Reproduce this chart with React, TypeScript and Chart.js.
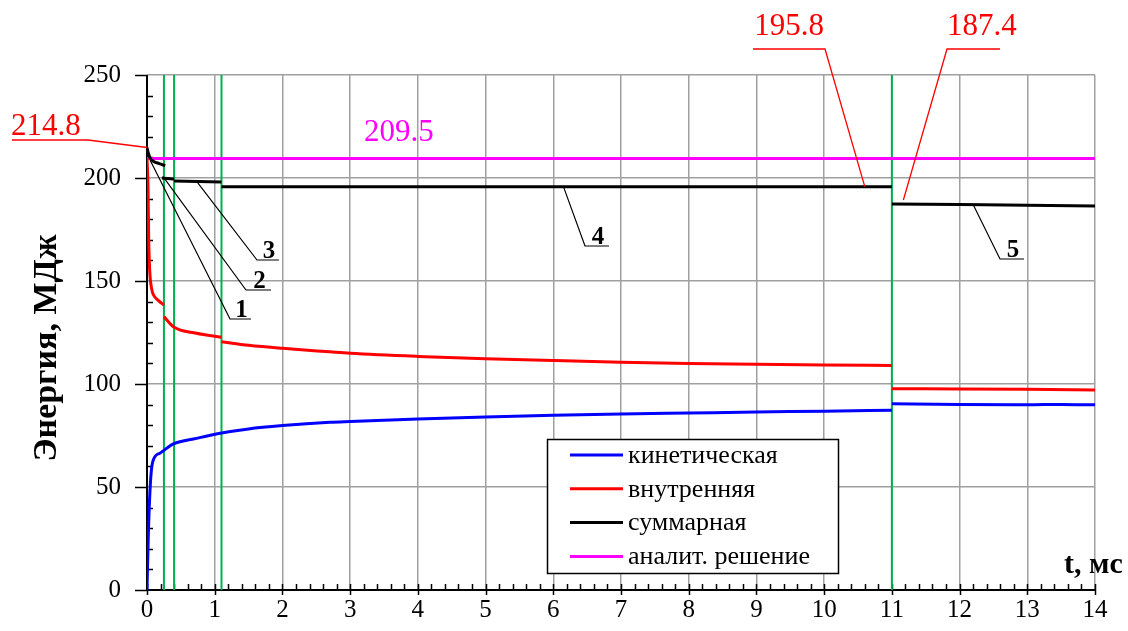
import { useEffect, useRef } from "react";
import { Chart, registerables } from "chart.js";

Chart.register(...registerables);

// Time axis (ms) and energy (MJ) for each curve; null breaks a curve between phases
const kineticT = [0, 0.02, 0.05, 0.085, 0.19, 0.39, 0.73, 1.08, 1.5, 2, 2.7, 3, 4, 5, 6, 7, 8, 9, 10, 11, 11, 11, 12, 13, 13.5, 14];
const kineticE = [0, 27.5, 51.8, 62.3, 66.4, 70.9, 73.6, 76.1, 78.2, 79.8, 81.4, 81.8, 83, 84, 84.8, 85.4, 85.9, 86.4, 86.8, 87.3, null, 90.4, 90.0, 89.9, 90.1, 89.9];

const internalT = [0, 0.015, 0.025, 0.04, 0.07, 0.1, 0.17, 0.25, 0.25, 0.25, 0.39, 0.73, 1.1, 1.1, 1.1, 1.5, 2, 2.7, 3, 4, 5, 6, 7, 8, 9, 10, 11, 11, 11, 12, 13, 14];
const internalE = [209.5, 195, 170, 155, 146, 143, 140.5, 138.3, null, 132.7, 127.8, 124.6, 122.7, null, 120.5, 118.8, 117.3, 115.6, 114.9, 113.4, 112.3, 111.4, 110.6, 110, 109.6, 109.2, 109, null, 97.7, 97.6, 97.4, 97.1];

const totalT = [0, 0.02, 0.05, 0.1, 0.18, 0.27, 0.27, 0.22, 0.4, 0.4, 0.4, 1.1, 1.1, 1.1, 11, 11, 11, 12, 13, 14];
const totalE = [214.8, 212, 209.5, 208, 207, 206, null, 200, 199.5, null, 198.6, 198.1, null, 195.8, 195.8, null, 187.4, 187.1, 186.8, 186.4];

const analyticT = [0, 14];
const analyticE = [209.5, 209.5];

// Phase boundaries (ms)
const markerT = [0.25, 0.4, 1.1, 11];

const legendLabels = ["кинетическая", "внутренняя", "суммарная", "аналит. решение"];
const legendColors = ["#0000ff", "#ff0000", "#000000", "#ff00ff"];

const yAxisTitle = "Энергия, МДж";
const xAxisTitle = "t, мс";

// Value call-outs with the point each one refers to
const startLabel = { text: "214.8", t: 0, e: 214.8 };
const beforeLabel = { text: "195.8", t: 10.6, e: 195.8 };
const afterLabel = { text: "187.4", t: 11.17, e: 189.3 };
const analyticLabel = "209.5";

// Numbered segment pointers and where they touch the total-energy curve
const segmentNums = ["1", "2", "3", "4", "5"];
const segmentT = [0.045, 0.24, 0.75, 6.15, 12.2];
const segmentE = [208.7, 200.5, 197.6, 195.8, 187.1];

const FONT = "'Liberation Serif', 'Times New Roman', serif";

const pts = (t: number[], e: (number | null)[]) => t.map((x, i) => ({ x, y: e[i] }));

export default function App() {
  const ref = useRef<HTMLCanvasElement | null>(null);

  useEffect(() => {
    if (!ref.current) return;

    const axesPlugin = {
      id: "axesPlugin",
      beforeDatasetsDraw(chart: any) {
        const { ctx, chartArea: a, scales } = chart;
        const xs = scales.x;
        const ys = scales.y;
        ctx.save();
        ctx.strokeStyle = "#000";
        ctx.lineWidth = 1.5;
        ctx.beginPath();
        for (let v = 0; v <= 250; v += 10) {
          const y = Math.round(ys.getPixelForValue(v)) + 0.5;
          if (v % 50 === 0) {
            ctx.moveTo(a.left - 12, y);
            ctx.lineTo(a.left, y);
          } else {
            ctx.moveTo(a.left, y);
            ctx.lineTo(a.left + 6, y);
          }
        }
        for (let i = 0; i <= 70; i++) {
          const v = i * 0.2;
          const x = Math.round(xs.getPixelForValue(v)) + 0.5;
          if (i % 5 === 0) {
            ctx.moveTo(x, a.bottom - 6);
            ctx.lineTo(x, a.bottom + 5);
          } else {
            ctx.moveTo(x, a.bottom - 6);
            ctx.lineTo(x, a.bottom);
          }
        }
        ctx.stroke();
        ctx.lineWidth = 2;
        ctx.beginPath();
        ctx.moveTo(a.left, a.top);
        ctx.lineTo(a.left, a.bottom);
        ctx.lineTo(a.right, a.bottom);
        ctx.stroke();
        ctx.restore();
      },
    };

    const notesPlugin = {
      id: "notesPlugin",
      afterDatasetsDraw(chart: any) {
        const { ctx, scales } = chart;
        const xs = scales.x;
        const ys = scales.y;
        const px = (t: number) => xs.getPixelForValue(t);
        const py = (e: number) => ys.getPixelForValue(e);
        ctx.save();

        // red value call-outs
        ctx.strokeStyle = "#ff0000";
        ctx.fillStyle = "#ff0000";
        ctx.lineWidth = 1.3;
        ctx.font = `31px ${FONT}`;
        ctx.textBaseline = "alphabetic";

        ctx.textAlign = "left";
        ctx.fillText(startLabel.text, 11, 135);
        ctx.beginPath();
        ctx.moveTo(12, 140);
        ctx.lineTo(88, 140);
        ctx.lineTo(px(startLabel.t), py(startLabel.e));
        ctx.stroke();

        ctx.textAlign = "center";
        ctx.fillText(beforeLabel.text, 789, 35);
        ctx.beginPath();
        ctx.moveTo(753, 49);
        ctx.lineTo(825, 49);
        ctx.lineTo(px(beforeLabel.t), py(beforeLabel.e));
        ctx.stroke();

        ctx.textAlign = "left";
        ctx.fillText(afterLabel.text, 947, 35);
        ctx.beginPath();
        ctx.moveTo(1000, 49);
        ctx.lineTo(947, 49);
        ctx.lineTo(px(afterLabel.t), py(afterLabel.e));
        ctx.stroke();

        ctx.fillStyle = "#ff00ff";
        ctx.fillText(analyticLabel, 364, 141);

        // numbered pointers to the total-energy segments
        const elbows = [
          [230, 319, 251],
          [246, 290, 271],
          [257, 260, 279],
          [585, 246, 609],
          [1000, 259, 1024],
        ];
        ctx.strokeStyle = "#000";
        ctx.fillStyle = "#000";
        ctx.lineWidth = 1.2;
        ctx.font = `bold 25px ${FONT}`;
        ctx.textAlign = "center";
        segmentNums.forEach((n, i) => {
          const [ex, ey, ux] = elbows[i];
          ctx.beginPath();
          ctx.moveTo(px(segmentT[i]), py(segmentE[i]));
          ctx.lineTo(ex, ey);
          ctx.lineTo(ux, ey);
          ctx.stroke();
          ctx.fillText(n, (ex + ux) / 2 + 1, ey - 2);
        });
        ctx.restore();
      },
      afterDraw(chart: any) {
        const { ctx } = chart;
        ctx.save();
        // axis titles
        ctx.fillStyle = "#000";
        ctx.font = `bold 34px ${FONT}`;
        ctx.textAlign = "center";
        ctx.textBaseline = "middle";
        ctx.translate(47, 348);
        ctx.rotate(-Math.PI / 2);
        ctx.fillText(yAxisTitle, 0, 0);
        ctx.setTransform(1, 0, 0, 1, 0, 0);
        ctx.font = `bold 30px ${FONT}`;
        ctx.textAlign = "left";
        ctx.textBaseline = "alphabetic";
        ctx.fillText(xAxisTitle, 1064, 573);

        // legend box
        const bx = 547, by = 439, bw = 291, bh = 134;
        ctx.fillStyle = "#fff";
        ctx.fillRect(bx, by, bw, bh);
        ctx.strokeStyle = "#000";
        ctx.lineWidth = 1.5;
        ctx.strokeRect(bx + 0.5, by + 0.5, bw, bh);
        ctx.font = `26px ${FONT}`;
        ctx.textBaseline = "middle";
        legendLabels.forEach((lbl, i) => {
          const y = 455 + i * 33.8;
          ctx.strokeStyle = legendColors[i];
          ctx.lineWidth = 3;
          ctx.beginPath();
          ctx.moveTo(570, y);
          ctx.lineTo(623, y);
          ctx.stroke();
          ctx.fillStyle = "#000";
          ctx.fillText(lbl, 628, y + 1);
        });
        ctx.restore();
      },
    };

    const markerData = markerT.flatMap((t) => [
      { x: t, y: 0 },
      { x: t, y: 250 },
      { x: t, y: null },
    ]);

    const lineDefaults = {
      pointRadius: 0,
      borderWidth: 3,
      spanGaps: false,
      cubicInterpolationMode: "monotone" as const,
      fill: false,
    };

    const chart = new Chart(ref.current, {
      type: "line",
      data: {
        datasets: [
          { label: "markers", data: markerData as any, borderColor: "#00b050", borderWidth: 2, pointRadius: 0, spanGaps: false, order: 10 },
          { label: legendLabels[3], data: pts(analyticT, analyticE) as any, borderColor: legendColors[3], ...lineDefaults, order: 5 },
          { label: legendLabels[0], data: pts(kineticT, kineticE) as any, borderColor: legendColors[0], ...lineDefaults, order: 3 },
          { label: legendLabels[1], data: pts(internalT, internalE) as any, borderColor: legendColors[1], ...lineDefaults, order: 2 },
          { label: legendLabels[2], data: pts(totalT, totalE) as any, borderColor: legendColors[2], ...lineDefaults, order: 1 },
        ],
      },
      options: {
        animation: false,
        responsive: false,
        maintainAspectRatio: false,
        layout: { padding: { top: 75, right: 33, left: 0, bottom: 0 } },
        plugins: { legend: { display: false }, tooltip: { enabled: false } },
        scales: {
          x: {
            type: "linear",
            min: 0,
            max: 14,
            ticks: { stepSize: 1, color: "#000", font: { family: FONT, size: 25 }, padding: 5, maxRotation: 0 },
            grid: { color: "#a0a0a0", lineWidth: 1.5, drawTicks: false },
            border: { display: false },
            afterFit(scale: any) {
              scale.height = 41;
            },
          },
          y: {
            type: "linear",
            min: 0,
            max: 250,
            ticks: { stepSize: 50, color: "#000", font: { family: FONT, size: 25 }, padding: 26 },
            grid: { color: "#a0a0a0", lineWidth: 1.5, drawTicks: false },
            border: { display: false },
            afterFit(scale: any) {
              scale.width = 147;
            },
          },
        },
      },
      plugins: [axesPlugin, notesPlugin],
    });

    return () => chart.destroy();
  }, []);

  return (
    <div style={{ position: "fixed", left: 0, top: 0, width: 1128, height: 631, background: "#fff" }}>
      <canvas ref={ref} width={1128} height={631} style={{ display: "block" }} />
    </div>
  );
}
